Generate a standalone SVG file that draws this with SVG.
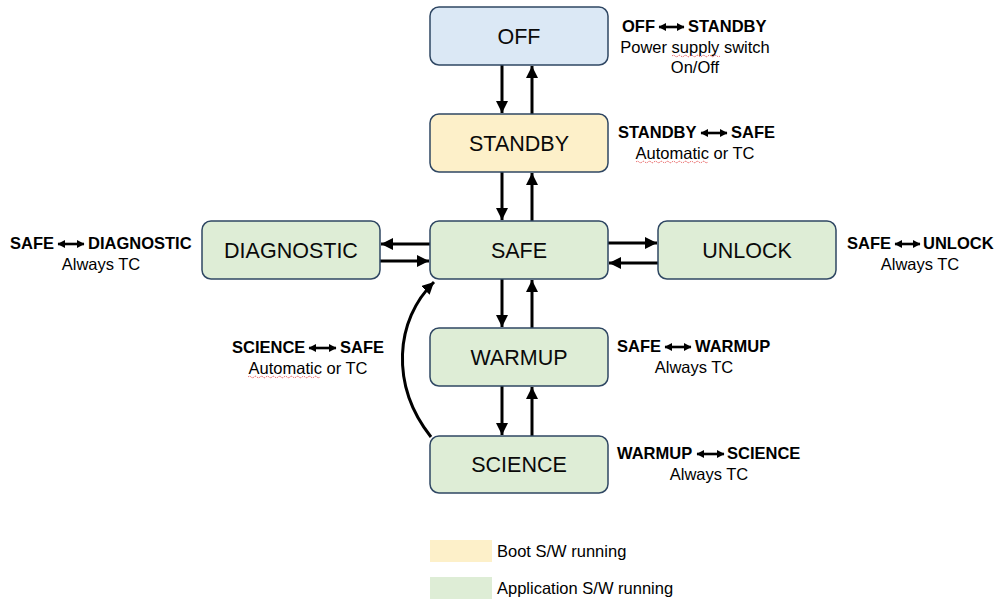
<svg xmlns="http://www.w3.org/2000/svg" width="997" height="602" viewBox="0 0 997 602">
<style>
.box{stroke:#2f4763;stroke-width:1.5}
.blue{fill:#dbe8f5}
.yel{fill:#fdf0c9}
.grn{fill:#deedd6}
.nt{font-family:"Liberation Sans",Arial,sans-serif;font-size:21.5px;fill:#0a0a0a;text-anchor:middle}
.lb{font-family:"Liberation Sans",Arial,sans-serif;font-size:16.5px;font-weight:bold;fill:#000}
.ls{font-family:"Liberation Sans",Arial,sans-serif;font-size:16.5px;fill:#000;text-anchor:middle}
.lg{font-family:"Liberation Sans",Arial,sans-serif;font-size:16.5px;fill:#000}
.con{stroke:#000;stroke-width:3;fill:none;marker-end:url(#ah)}
.da{stroke:#000;stroke-width:2.6;fill:none;marker-start:url(#sa);marker-end:url(#sa)}
.sq{stroke:#e03030;stroke-width:0.8;fill:none;stroke-dasharray:1.5 1}
</style>
<defs>
<marker id="ah" markerUnits="userSpaceOnUse" markerWidth="14" markerHeight="12" refX="12" refY="6" orient="auto">
<path d="M0,0 L12,6 L0,12 Z" fill="#000"/>
</marker>
<marker id="sa" markerUnits="userSpaceOnUse" markerWidth="9" markerHeight="9" refX="7" refY="4.5" orient="auto-start-reverse">
<path d="M0,0.5 L7.5,4.5 L0,8.5 Z" fill="#000"/>
</marker>
</defs>

<g id="connectors">
<line class="con" x1="502" y1="65" x2="502" y2="113"/>
<line class="con" x1="532" y1="114" x2="532" y2="66"/>
<line class="con" x1="502" y1="172" x2="502" y2="220"/>
<line class="con" x1="532" y1="221" x2="532" y2="173"/>
<line class="con" x1="502" y1="279" x2="502" y2="327"/>
<line class="con" x1="532" y1="328" x2="532" y2="280"/>
<line class="con" x1="502" y1="386" x2="502" y2="435"/>
<line class="con" x1="532" y1="436" x2="532" y2="387"/>
<line class="con" x1="430" y1="244" x2="381" y2="244"/>
<line class="con" x1="380" y1="261" x2="429" y2="261"/>
<line class="con" x1="608" y1="243" x2="657" y2="243"/>
<line class="con" x1="658" y1="263" x2="609" y2="263"/>
<path class="con" d="M431,437 C390,385 395,320 434,282"/>
</g>

<g id="OFF"><rect class="box blue" x="430" y="7" width="178" height="58" rx="9"/><text class="nt" x="519" y="43.5">OFF</text></g>
<g id="STANDBY"><rect class="box yel" x="430" y="114" width="178" height="58" rx="9"/><text class="nt" x="519" y="150.5">STANDBY</text></g>
<g id="SAFE"><rect class="box grn" x="430" y="221" width="178" height="58" rx="9"/><text class="nt" x="519" y="257.5">SAFE</text></g>
<g id="DIAGNOSTIC"><rect class="box grn" x="202" y="221" width="178" height="58" rx="9"/><text class="nt" x="291" y="257.5">DIAGNOSTIC</text></g>
<g id="UNLOCK"><rect class="box grn" x="658" y="221" width="178" height="58" rx="9"/><text class="nt" x="747" y="257.5">UNLOCK</text></g>
<g id="WARMUP"><rect class="box grn" x="430" y="328" width="178" height="58" rx="9"/><text class="nt" x="519" y="364.5">WARMUP</text></g>
<g id="SCIENCE"><rect class="box grn" x="430" y="436" width="178" height="57" rx="9"/><text class="nt" x="519" y="472">SCIENCE</text></g>

<g id="label-off-standby">
<text class="lb" x="622" y="32">OFF</text><line class="da" x1="659" y1="27" x2="684" y2="27"/><text class="lb" x="688" y="32">STANDBY</text>
<text class="ls" x="695" y="53">Power supply switch</text>
<text class="ls" x="695" y="73">On/Off</text>
<path class="sq" d="M672,56 q1.5,-1.5 3,0 t3,0 t3,0 t3,0 t3,0 t3,0 t3,0 t3,0 t3,0 t3,0 t3,0 t3,0 t3,0 t3,0 t3,0 t3,0"/>
</g>
<g id="label-standby-safe">
<text class="lb" x="618" y="138">STANDBY</text><line class="da" x1="701" y1="133" x2="727" y2="133"/><text class="lb" x="731" y="138">SAFE</text>
<text class="ls" x="695" y="159">Automatic or TC</text>
<path class="sq" d="M636,162 q1.5,-1.5 3,0 t3,0 t3,0 t3,0 t3,0 t3,0 t3,0 t3,0 t3,0 t3,0 t3,0 t3,0 t3,0 t3,0 t3,0 t3,0 t3,0 t3,0 t3,0 t3,0 t3,0 t3,0 t3,0 t3,0"/>
</g>
<g id="label-safe-diagnostic">
<text class="lb" x="10" y="249">SAFE</text><line class="da" x1="58" y1="244" x2="84" y2="244"/><text class="lb" x="88" y="249">DIAGNOSTIC</text>
<text class="ls" x="101" y="270">Always TC</text>
</g>
<g id="label-safe-unlock">
<text class="lb" x="847" y="249">SAFE</text><line class="da" x1="895" y1="244" x2="920" y2="244"/><text class="lb" x="923" y="249">UNLOCK</text>
<text class="ls" x="920" y="270">Always TC</text>
</g>
<g id="label-science-safe">
<text class="lb" x="232" y="353">SCIENCE</text><line class="da" x1="309" y1="348" x2="336" y2="348"/><text class="lb" x="340" y="353">SAFE</text>
<text class="ls" x="308" y="374">Automatic or TC</text>
<path class="sq" d="M248,377 q1.5,-1.5 3,0 t3,0 t3,0 t3,0 t3,0 t3,0 t3,0 t3,0 t3,0 t3,0 t3,0 t3,0 t3,0 t3,0 t3,0 t3,0 t3,0 t3,0 t3,0 t3,0 t3,0 t3,0 t3,0 t3,0"/>
</g>
<g id="label-safe-warmup">
<text class="lb" x="617" y="352">SAFE</text><line class="da" x1="665" y1="347" x2="691" y2="347"/><text class="lb" x="695" y="352">WARMUP</text>
<text class="ls" x="694" y="373">Always TC</text>
</g>
<g id="label-warmup-science">
<text class="lb" x="617" y="459">WARMUP</text><line class="da" x1="697" y1="454" x2="724" y2="454"/><text class="lb" x="727" y="459">SCIENCE</text>
<text class="ls" x="709" y="480">Always TC</text>
</g>

<g id="legend">
<rect x="430" y="540" width="62" height="22" fill="#fdf0c9"/>
<text class="lg" x="497" y="557">Boot S/W running</text>
<rect x="430" y="577" width="62" height="22" fill="#deedd6"/>
<text class="lg" x="497" y="594">Application S/W running</text>
</g>
</svg>
